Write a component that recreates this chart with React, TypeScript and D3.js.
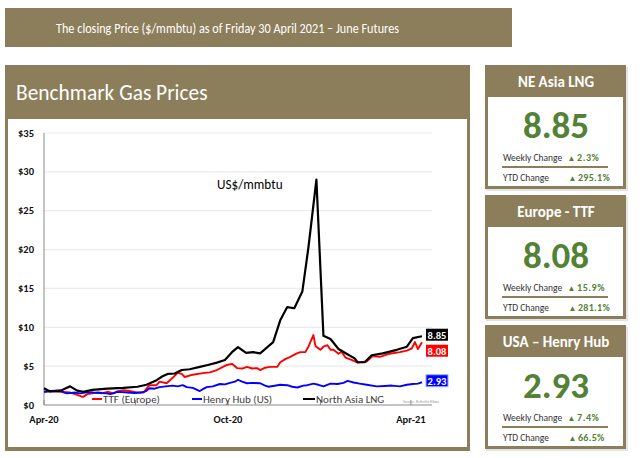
import React from "react";
import * as d3 from "d3";

// ---------- DATA ----------
const ttfSeries: [string, number][] = [
  ["2020-04-01", 1.7], ["2020-04-07", 1.8], ["2020-04-17", 1.7], ["2020-04-27", 1.6], ["2020-05-01", 1.45],
  ["2020-05-04", 1.3], ["2020-05-08", 1.1], ["2020-05-10", 1.05], ["2020-05-14", 1.4], ["2020-05-19", 1.5],
  ["2020-05-24", 1.6], ["2020-05-30", 1.55], ["2020-06-04", 1.7], ["2020-06-09", 1.5], ["2020-06-13", 1.75],
  ["2020-06-19", 1.9], ["2020-06-25", 1.8], ["2020-07-03", 1.6], ["2020-07-09", 1.6], ["2020-07-12", 2.1],
  ["2020-07-15", 2.55], ["2020-07-22", 2.55], ["2020-07-25", 3.0], ["2020-08-01", 2.8], ["2020-08-07", 3.5],
  ["2020-08-12", 4.15], ["2020-08-16", 4.0], ["2020-08-19", 3.6], ["2020-08-27", 3.9], ["2020-09-06", 4.1],
  ["2020-09-13", 4.2], ["2020-09-20", 4.5], ["2020-09-26", 4.9], ["2020-09-30", 5.15], ["2020-10-05", 5.3],
  ["2020-10-10", 4.75], ["2020-10-16", 4.7], ["2020-10-20", 4.9], ["2020-10-25", 4.7], ["2020-10-30", 4.75],
  ["2020-11-02", 4.5], ["2020-11-07", 4.8], ["2020-11-12", 4.9], ["2020-11-19", 4.9], ["2020-11-22", 5.5],
  ["2020-11-27", 5.9], ["2020-12-02", 6.2], ["2020-12-08", 6.6], ["2020-12-12", 6.8], ["2020-12-17", 6.8],
  ["2020-12-20", 7.5], ["2020-12-25", 9.0], ["2020-12-27", 7.6], ["2021-01-01", 7.1], ["2021-01-04", 7.5],
  ["2021-01-08", 7.7], ["2021-01-11", 7.1], ["2021-01-14", 7.1], ["2021-01-19", 6.6], ["2021-01-22", 6.85],
  ["2021-01-26", 6.1], ["2021-02-01", 5.8], ["2021-02-07", 5.45], ["2021-02-16", 5.6], ["2021-02-22", 6.3],
  ["2021-03-01", 6.2], ["2021-03-11", 6.6], ["2021-03-21", 6.8], ["2021-03-28", 7.0], ["2021-04-02", 7.3],
  ["2021-04-05", 8.1], ["2021-04-08", 7.2], ["2021-04-12", 8.08],
];

const henryHubSeries: [string, number][] = [
  ["2020-04-01", 1.7], ["2020-04-09", 1.8], ["2020-04-17", 1.9], ["2020-04-21", 1.6], ["2020-04-24", 1.5],
  ["2020-05-02", 1.6], ["2020-05-07", 1.5], ["2020-05-15", 1.65], ["2020-05-20", 1.6], ["2020-05-27", 1.55],
  ["2020-06-02", 1.5], ["2020-06-06", 1.4], ["2020-06-10", 1.55], ["2020-06-13", 1.7], ["2020-06-18", 1.65],
  ["2020-06-23", 1.6], ["2020-06-30", 1.55], ["2020-07-06", 1.6], ["2020-07-11", 1.75], ["2020-07-15", 2.15],
  ["2020-07-20", 2.1], ["2020-07-25", 2.3], ["2020-07-31", 2.4], ["2020-08-07", 2.5], ["2020-08-12", 2.4],
  ["2020-08-17", 2.55], ["2020-08-21", 2.3], ["2020-08-27", 2.2], ["2020-09-03", 1.8], ["2020-09-07", 2.1],
  ["2020-09-10", 2.3], ["2020-09-16", 2.4], ["2020-09-23", 2.7], ["2020-09-28", 2.65], ["2020-10-03", 2.85],
  ["2020-10-08", 3.0], ["2020-10-11", 3.25], ["2020-10-15", 3.0], ["2020-10-20", 2.8], ["2020-10-25", 2.85],
  ["2020-11-02", 2.8], ["2020-11-07", 2.5], ["2020-11-10", 2.35], ["2020-11-15", 2.45], ["2020-11-22", 2.6],
  ["2020-11-29", 2.55], ["2020-12-04", 2.35], ["2020-12-09", 2.25], ["2020-12-15", 2.5], ["2020-12-19", 2.55],
  ["2020-12-25", 2.75], ["2020-12-30", 2.6], ["2021-01-04", 2.4], ["2021-01-11", 2.75], ["2021-01-18", 2.7],
  ["2021-01-24", 2.85], ["2021-01-28", 3.1], ["2021-02-03", 2.9], ["2021-02-09", 2.75], ["2021-02-16", 2.6],
  ["2021-02-26", 2.4], ["2021-03-06", 2.45], ["2021-03-13", 2.5], ["2021-03-21", 2.4], ["2021-03-28", 2.6],
  ["2021-04-03", 2.7], ["2021-04-08", 2.75], ["2021-04-12", 2.93],
];

const northAsiaLngSeries: [string, number][] = [
  ["2020-04-01", 2.15], ["2020-04-07", 1.75], ["2020-04-17", 1.8], ["2020-04-27", 2.4], ["2020-05-04", 1.85],
  ["2020-05-10", 1.7], ["2020-05-19", 1.95], ["2020-06-03", 2.1], ["2020-06-19", 2.2], ["2020-07-03", 2.35],
  ["2020-07-12", 2.6], ["2020-07-22", 3.2], ["2020-07-28", 3.7], ["2020-08-02", 4.0], ["2020-08-09", 4.05],
  ["2020-08-16", 4.5], ["2020-08-24", 4.6], ["2020-09-03", 4.9], ["2020-09-11", 5.15], ["2020-09-20", 5.45],
  ["2020-09-28", 5.8], ["2020-10-05", 6.8], ["2020-10-11", 7.45], ["2020-10-19", 6.7], ["2020-10-26", 6.8],
  ["2020-11-02", 6.65], ["2020-11-15", 8.1], ["2020-11-22", 10.9], ["2020-11-29", 12.6], ["2020-12-06", 12.45],
  ["2020-12-14", 14.6], ["2020-12-20", 20.2], ["2020-12-28", 29.0], ["2021-01-04", 8.9], ["2021-01-11", 8.5],
  ["2021-01-19", 7.2], ["2021-01-27", 6.6], ["2021-02-04", 6.0], ["2021-02-07", 5.5], ["2021-02-14", 5.5],
  ["2021-02-21", 6.4], ["2021-03-04", 6.65], ["2021-03-18", 7.1], ["2021-03-28", 7.5], ["2021-04-03", 8.6],
  ["2021-04-12", 8.85],
];

const seriesNames = ["TTF (Europe)", "Henry Hub (US)", "North Asia LNG"];
const seriesColors = ["#FF0000", "#0000FF", "#000000"];
const lastValues = [8.08, 2.93, 8.85];
const yTicks = [0, 5, 10, 15, 20, 25, 30, 35];
const xDomain = ["2020-04-01", "2021-04-22"];

const cardTitles = ["NE Asia LNG", "Europe - TTF", "USA \u2013 Henry Hub"];
const cardPrices = ["8.85", "8.08", "2.93"];
const weeklyChanges = ["2.3%", "15.9%", "7.4%"];
const ytdChanges = ["295.1%", "281.1%", "66.5%"];

const bannerText = "The closing Price ($/mmbtu) as of  Friday 30 April 2021 \u2013 June Futures";

// ---------- STYLE ----------
const BROWN = "#8C7E5A";
const GREEN = "#538135";
const FONT = "Carlito, Lato, 'Open Sans', sans-serif";

export default function App() {
  const parse = d3.timeParse("%Y-%m-%d");
  const x = d3
    .scaleTime()
    .domain(xDomain.map((s) => parse(s) as Date))
    .range([44, 432]);
  const y = d3.scaleLinear().domain([0, 35]).range([405, 133]);

  const line = d3
    .line<[string, number]>()
    .x((d) => x(parse(d[0]) as Date))
    .y((d) => y(d[1]));

  const allSeries = [ttfSeries, henryHubSeries, northAsiaLngSeries];
  const quarterTicks = x.ticks(d3.timeMonth.every(3) as any);
  const fmtMonth = d3.timeFormat("%b-%y");

  const boxOffsets = [8.5, -1.5, -1.5];
  const legendX = [92, 192, 303];

  return (
    <svg
      width={640}
      height={458}
      style={{ position: "absolute", left: 0, top: 0, background: "#fff" }}
      fontFamily={FONT}
    >
      {/* Banner */}
      <rect x={5} y={8} width={507} height={39} fill={BROWN} />
      <text x={56} y={33} fill="#fff" fontSize={14} textLength={343} lengthAdjust="spacingAndGlyphs">
        {bannerText}
      </text>

      {/* Main panel */}
      <rect x={5} y={65} width={465} height={386} fill={BROWN} />
      <rect x={8} y={119} width={459} height={328} fill="#fff" />
      <text x={16} y={100} fill="#fff" fontSize={21.4}>
        Benchmark Gas Prices
      </text>

      {/* Gridlines */}
      {yTicks.map((t) =>
        t === 0 ? null : (
          <line key={"g" + t} x1={44} x2={432} y1={y(t)} y2={y(t)} stroke="#ebebeb" strokeWidth={1.2} />
        )
      )}
      {yTicks.map((t) => (
        <text key={"yl" + t} x={34} y={y(t) + 3.5} textAnchor="end" fontSize={10.5} fontWeight="bold" fill="#111">
          {"$" + t}
        </text>
      ))}
      <line x1={44} x2={44} y1={133} y2={405} stroke="#8a8a8a" strokeWidth={1} />
      <line x1={44} x2={432} y1={405} y2={405} stroke="#8a8a8a" strokeWidth={1} />
      {quarterTicks.map((d, i) => (
        <line key={"xt" + i} x1={x(d)} x2={x(d)} y1={400} y2={405} stroke="#8a8a8a" />
      ))}
      {quarterTicks
        .filter((d) => d.getMonth() % 6 === 3)
        .map((d, i) => (
          <text key={"xl" + i} x={x(d)} y={423} textAnchor="middle" fontSize={10.5} fontWeight="bold" fill="#111">
            {fmtMonth(d)}
          </text>
        ))}

      {/* Series */}
      {allSeries.map((s, i) => (
        <path
          key={"s" + i}
          d={line(s) || ""}
          fill="none"
          stroke={seriesColors[i]}
          strokeWidth={i === 2 ? 2.2 : 1.9}
          strokeLinejoin="round"
        />
      ))}

      {/* Legend */}
      {seriesNames.map((n, i) => (
        <g key={"lg" + i}>
          <line
            x1={legendX[i]}
            x2={legendX[i] + (i === 2 ? 12 : 10)}
            y1={399}
            y2={399}
            stroke={seriesColors[i]}
            strokeWidth={2}
          />
          <text x={legendX[i] + (i === 2 ? 13 : 11)} y={403} fontSize={11} fill="#404040">
            {n}
          </text>
        </g>
      ))}
      <text x={403} y={403} fontSize={4} fill="#999">
        Source: Refinitiv Eikon
      </text>

      <text x={217} y={189} fontSize={13.2} fill="#000">
        US$/mmbtu
      </text>

      {/* Last value boxes */}
      {lastValues.map((v, i) => {
        const cy = y(v) + boxOffsets[i];
        return (
          <g key={"bx" + i}>
            <rect
              x={426}
              y={cy - 6}
              width={22}
              height={12}
              fill={seriesColors[i]}
              stroke={i === 1 ? "#9ab0ff" : "none"}
              strokeWidth={1}
            />
            <text x={437} y={cy + 3.8} textAnchor="middle" fontSize={10.5} fontWeight="bold" fill="#fff">
              {v.toFixed(2)}
            </text>
          </g>
        );
      })}

      {/* Cards */}
      {cardTitles.map((t, i) => {
        const top = 65 + 130 * i;
        return (
          <g key={"c" + i}>
            <rect x={486} y={top + 2} width={142} height={124} fill="#e4e4e4" />
            <rect x={485} y={top} width={141} height={124} fill={BROWN} />
            <rect x={488} y={top + 32} width={135} height={89} fill="#fff" />
            <text x={556} y={top + 22} textAnchor="middle" fill="#fff" fontSize={15} fontWeight="bold">
              {t}
            </text>
            <text x={556} y={top + 73} textAnchor="middle" fill={GREEN} fontSize={37} fontWeight="bold">
              {cardPrices[i]}
            </text>
            <text x={503} y={top + 96} fontSize={9.5} fill="#333">
              Weekly Change
            </text>
            <text x={567.5} y={top + 96} fontSize={8} fill={GREEN}>
              ▲
            </text>
            <text x={577} y={top + 96} fontSize={10} fontWeight="bold" fill={GREEN} letterSpacing={0.6}>
              {weeklyChanges[i]}
            </text>
            <line x1={502} x2={608} y1={top + 102} y2={top + 102} stroke={BROWN} strokeWidth={2} />
            <text x={503} y={top + 116} fontSize={9.5} fill="#333">
              YTD Change
            </text>
            <text x={568.5} y={top + 116} fontSize={8} fill={GREEN}>
              ▲
            </text>
            <text x={578} y={top + 116} fontSize={10} fontWeight="bold" fill={GREEN} letterSpacing={0.3}>
              {ytdChanges[i]}
            </text>
          </g>
        );
      })}
    </svg>
  );
}
